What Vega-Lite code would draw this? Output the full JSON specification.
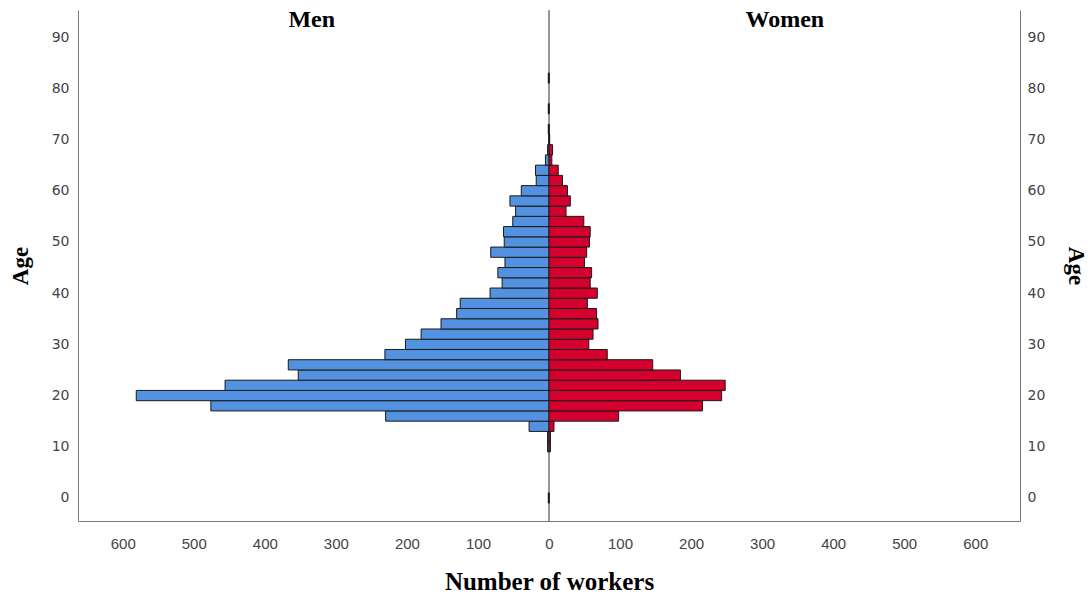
{
  "$schema": "https://vega.github.io/schema/vega-lite/v6.json",
  "width": 942,
  "height": 511,
  "autosize": {"type": "none"},
  "padding": {"left": 78, "top": 10, "right": 68, "bottom": 75},
  "background": "white",
  "config": {
    "view": {"stroke": null},
    "axis": {
      "grid": false,
      "ticks": false,
      "tickSize": 0,
      "domainColor": "#7a7a7a",
      "domainWidth": 1,
      "labelColor": "#444444",
      "titleColor": "#000000",
      "titleFont": "Liberation Serif",
      "titleFontWeight": "bold"
    }
  },
  "data": {
    "values": [
      {"age": 0, "men": 1, "women": 0},
      {"age": 10, "men": 2, "women": 2},
      {"age": 12, "men": 2, "women": 2},
      {"age": 14, "men": 28, "women": 7},
      {"age": 16, "men": 230, "women": 98},
      {"age": 18, "men": 476, "women": 216},
      {"age": 20, "men": 581, "women": 243},
      {"age": 22, "men": 456, "women": 248},
      {"age": 24, "men": 353, "women": 185},
      {"age": 26, "men": 367, "women": 146},
      {"age": 28, "men": 231, "women": 82},
      {"age": 30, "men": 202, "women": 56},
      {"age": 32, "men": 180, "women": 62},
      {"age": 34, "men": 152, "women": 69},
      {"age": 36, "men": 130, "women": 67},
      {"age": 38, "men": 125, "women": 54},
      {"age": 40, "men": 83, "women": 68},
      {"age": 42, "men": 66, "women": 58},
      {"age": 44, "men": 72, "women": 60},
      {"age": 46, "men": 62, "women": 50},
      {"age": 48, "men": 82, "women": 53},
      {"age": 50, "men": 63, "women": 57},
      {"age": 52, "men": 64, "women": 58},
      {"age": 54, "men": 51, "women": 49},
      {"age": 56, "men": 47, "women": 24},
      {"age": 58, "men": 55, "women": 30},
      {"age": 60, "men": 39, "women": 26},
      {"age": 62, "men": 18, "women": 19},
      {"age": 64, "men": 19, "women": 13},
      {"age": 66, "men": 5, "women": 4},
      {"age": 68, "men": 2, "women": 5},
      {"age": 70, "men": 0, "women": 1},
      {"age": 72, "men": 1, "women": 0},
      {"age": 76, "men": 1, "women": 0},
      {"age": 82, "men": 1, "women": 0}
    ]
  },
  "layer": [
    {
      "data": {"values": [{}]},
      "mark": {"type": "rule", "color": "#7d7d7d", "strokeWidth": 1.6},
      "encoding": {
        "x": {"datum": 0, "type": "quantitative", "scale": {"domain": [-663, 663], "nice": false}, "axis": null}
      }
    },
    {
      "transform": [{"bin": {"step": 2, "anchor": 1, "extent": [-1, 95]}, "field": "age", "as": ["age0", "age1"]}],
      "mark": {"type": "bar", "fill": "#5391e1", "stroke": "#1a1a1a", "strokeWidth": 1},
      "encoding": {
        "y": {
          "field": "age0", "type": "quantitative",
          "scale": {"domain": [-4.5, 95.3], "nice": false, "zero": false},
          "axis": {"orient": "left", "values": [0, 10, 20, 30, 40, 50, 60, 70, 80, 90], "title": "Age",
                   "labelFont": "DejaVu Sans", "labelFontSize": 14, "labelPadding": 9,
                   "titleFontSize": 23, "titlePadding": 19}
        },
        "y2": {"field": "age1"},
        "x": {"field": "men", "type": "quantitative", "scale": {"domain": [-663, 663], "reverse": true, "nice": false}, "axis": null},
        "x2": {"datum": 0}
      }
    },
    {
      "transform": [{"bin": {"step": 2, "anchor": 1, "extent": [-1, 95]}, "field": "age", "as": ["age0", "age1"]}],
      "mark": {"type": "bar", "fill": "#d4002e", "stroke": "#1a1a1a", "strokeWidth": 1},
      "encoding": {
        "y": {
          "field": "age0", "type": "quantitative",
          "scale": {"domain": [-4.5, 95.3], "nice": false, "zero": false},
          "axis": {"orient": "right", "values": [0, 10, 20, 30, 40, 50, 60, 70, 80, 90], "title": "Age",
                   "labelFont": "DejaVu Sans", "labelFontSize": 14, "labelPadding": 7,
                   "titleFontSize": 23, "titlePadding": 19}
        },
        "y2": {"field": "age1"},
        "x": {
          "field": "women", "type": "quantitative", "scale": {"domain": [-663, 663], "nice": false},
          "axis": {"orient": "bottom", "values": [-600, -500, -400, -300, -200, -100, 0, 100, 200, 300, 400, 500, 600],
                   "labelExpr": "abs(datum.value)", "title": "Number of workers",
                   "labelFont": "Liberation Sans", "labelFontSize": 15, "labelPadding": 15,
                   "titleFontSize": 25, "titlePadding": 18}
        },
        "x2": {"datum": 0}
      }
    },
    {
      "data": {"values": [{}]},
      "mark": {"type": "text", "text": "Men", "font": "Liberation Serif", "fontWeight": "bold", "fontSize": 24, "align": "center", "baseline": "middle", "color": "#000000"},
      "encoding": {
        "x": {"datum": -334, "type": "quantitative", "scale": {"domain": [-663, 663], "nice": false}, "axis": null},
        "y": {"datum": 93.4, "type": "quantitative", "axis": null}
      }
    },
    {
      "data": {"values": [{}]},
      "mark": {"type": "text", "text": "Women", "font": "Liberation Serif", "fontWeight": "bold", "fontSize": 24, "align": "center", "baseline": "middle", "color": "#000000"},
      "encoding": {
        "x": {"datum": 332, "type": "quantitative", "scale": {"domain": [-663, 663], "nice": false}, "axis": null},
        "y": {"datum": 93.4, "type": "quantitative", "axis": null}
      }
    }
  ],
  "resolve": {"scale": {"x": "independent"}, "axis": {"x": "independent", "y": "independent"}}
}
